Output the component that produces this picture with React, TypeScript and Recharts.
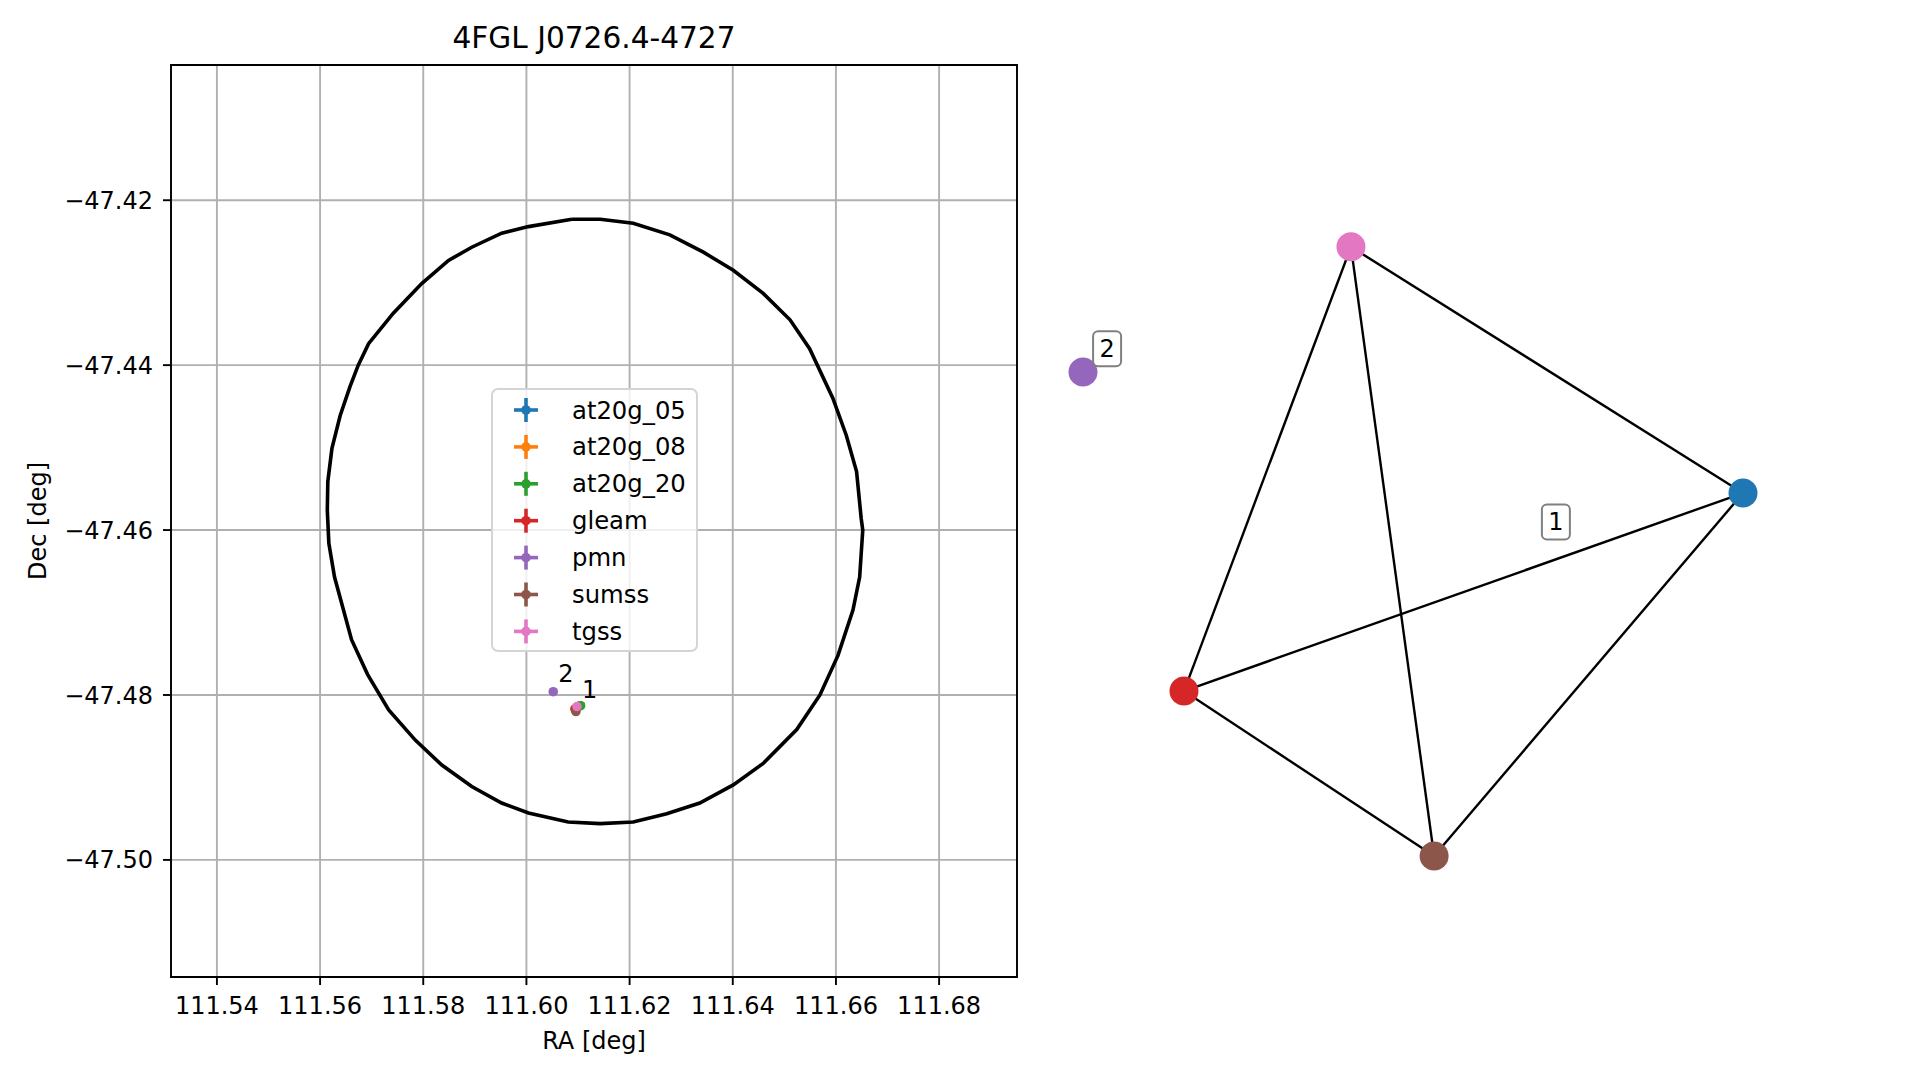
import {
  CartesianGrid,
  Legend,
  ReferenceArea,
  ReferenceLine,
  Scatter,
  ScatterChart,
  XAxis,
  YAxis,
} from "recharts";

// left panel: sky positions
const raTicks = [111.54, 111.56, 111.58, 111.6, 111.62, 111.64, 111.66, 111.68];
const decTicks = [-47.5, -47.48, -47.46, -47.44, -47.42];
const raDomain = [111.5311, 111.6951];
const decDomain = [-47.5142, -47.4036];

const catalogs = ["at20g_05", "at20g_08", "at20g_20", "gleam", "pmn", "sumss", "tgss"];
const catalogColors = ["#1f77b4", "#ff7f0e", "#2ca02c", "#d62728", "#9467bd", "#8c564b", "#e377c2"];
const catalogRa = [111.6104, 111.6104, 111.6105, 111.6094, 111.6052, 111.6096, 111.6098];
const catalogDec = [-47.4813, -47.4813, -47.4813, -47.4817, -47.4796, -47.482, -47.4814];

const groupLabels = ["1", "2"];
const groupRa = [111.6098, 111.6052];
const groupDec = [-47.4816, -47.4796];

// 4FGL error ellipse
const ellipseRa = [
  111.6088, 111.6143, 111.6207, 111.6278, 111.6343, 111.6401, 111.6459, 111.6511, 111.6549, 111.6594,
  111.662, 111.664, 111.6649, 111.6652, 111.6646, 111.6633, 111.6604, 111.6569, 111.6524, 111.6459,
  111.6401, 111.6336, 111.6272, 111.6207, 111.6143, 111.6081, 111.6004, 111.5952, 111.5894, 111.5836,
  111.5785, 111.5733, 111.5692, 111.5661, 111.5628, 111.5617, 111.5614, 111.5615, 111.5623, 111.5639,
  111.5658, 111.5674, 111.5694, 111.5742, 111.5797, 111.5849, 111.5894, 111.5952, 111.6004, 111.6088,
];
const ellipseDec = [
  -47.4223, -47.4223, -47.4228, -47.4242, -47.4263, -47.4285, -47.4313, -47.4345, -47.438, -47.444,
  -47.4485, -47.4529, -47.4586, -47.46, -47.4657, -47.4697, -47.4752, -47.48, -47.4842, -47.4883,
  -47.4909, -47.4931, -47.4944, -47.4954, -47.4956, -47.4954, -47.4943, -47.4931, -47.4911, -47.4885,
  -47.4855, -47.4818, -47.4775, -47.4733, -47.4657, -47.4616, -47.4576, -47.4541, -47.4501, -47.4461,
  -47.4426, -47.44, -47.4374, -47.4337, -47.4301, -47.4273, -47.4257, -47.424, -47.4232, -47.4223,
];

// right panel: match graph layout
const nodeNames = ["pmn", "tgss", "at20g_05", "gleam", "sumss"];
const nodeColors = ["#9467bd", "#e377c2", "#1f77b4", "#d62728", "#8c564b"];
const nodeX = [-1.0, -0.188, 1.0, -0.694, 0.064];
const nodeY = [0.582, 0.961, 0.215, -0.385, -0.885];
const edgeFrom = ["tgss", "tgss", "tgss", "at20g_05", "at20g_05", "gleam"];
const edgeTo = ["at20g_05", "gleam", "sumss", "gleam", "sumss", "sumss"];
const componentLabels = ["1", "2"];
const componentX = [0.433, -0.927];
const componentY = [0.127, 0.652];

const ellipse = ellipseRa.map((ra, i) => ({ ra, dec: ellipseDec[i] }));
const groups = groupLabels.map((label, i) => ({ label, ra: groupRa[i], dec: groupDec[i] }));
const nodes = nodeNames.map((name, i) => ({ name, color: nodeColors[i], x: nodeX[i], y: nodeY[i] }));
const components = componentLabels.map((label, i) => ({ label, x: componentX[i], y: componentY[i] }));
const nodeAt = (name: string) => nodes.find((n) => n.name === name)!;

const FONT = "'DejaVu Sans', sans-serif";
const fmtDec = (v: number) => (v < 0 ? "\u2212" : "") + Math.abs(v).toFixed(2);

const Dot = (p: any) => <circle cx={p.cx} cy={p.cy} r={4.8} fill={p.fill} />;
const Nothing = () => <g />;
const GroupText = (p: any) => (
  <text x={p.cx + 5} y={p.cy - 10} fontSize={24} fontFamily={FONT} fill="#000">
    {p.payload.label}
  </text>
);
const NodeDot = (p: any) => <circle cx={p.cx} cy={p.cy} r={14.5} fill={p.payload.color} />;
const BoxLabel = (p: any) => (
  <g>
    <rect x={p.cx - 14} y={p.cy - 17.5} width={28} height={35} rx={5} fill="#fff" stroke="#808080" strokeWidth={2} />
    <text x={p.cx} y={p.cy} textAnchor="middle" dominantBaseline="central" fontSize={24} fontFamily={FONT} fill="#000">
      {p.payload.label}
    </text>
  </g>
);

const renderLegend = () => (
  <svg width={207} height={264}>
    <rect x={1} y={1} width={205} height={262} rx={6} fill="rgba(255,255,255,0.8)" stroke="#d4d4d4" strokeWidth={1.9} />
    {catalogs.map((name, i) => {
      const cy = 22 + i * 36.9;
      const c = catalogColors[i];
      return (
        <g key={name}>
          <line x1={23} x2={47} y1={cy} y2={cy} stroke={c} strokeWidth={3.6} />
          <line x1={35} x2={35} y1={cy - 12} y2={cy + 12} stroke={c} strokeWidth={3.6} />
          <circle cx={35} cy={cy} r={4.8} fill={c} />
          <text x={81} y={cy} dominantBaseline="central" fontSize={24.3} fontFamily={FONT} fill="#000">
            {name}
          </text>
        </g>
      );
    })}
  </svg>
);

export default function App() {
  return (
    <div style={{ position: "fixed", left: 0, top: 0, width: 1919, height: 1080, background: "#fff", fontFamily: FONT }}>
      <div style={{ position: "absolute", left: 0, top: 0 }}>
        <ScatterChart width={1040} height={1080} margin={{ top: 65, right: 23, bottom: 63, left: 71 }}>
          <CartesianGrid stroke="#b0b0b0" strokeWidth={1.9} />
          <XAxis
            type="number"
            dataKey="ra"
            domain={raDomain}
            ticks={raTicks}
            interval={0}
            allowDataOverflow
            height={40}
            axisLine={false}
            tickLine={{ stroke: "#000", strokeWidth: 1.9 }}
            tickSize={8}
            tickMargin={12}
            tick={{ fill: "#000", fontSize: 24, fontFamily: FONT }}
            tickFormatter={(v: number) => v.toFixed(2)}
          />
          <YAxis
            type="number"
            dataKey="dec"
            domain={decDomain}
            ticks={decTicks}
            interval={0}
            allowDataOverflow
            width={100}
            axisLine={false}
            tickLine={{ stroke: "#000", strokeWidth: 1.9 }}
            tickSize={8}
            tickMargin={10}
            tick={{ fill: "#000", fontSize: 24, fontFamily: FONT }}
            tickFormatter={fmtDec}
          />
          <Scatter
            data={ellipse}
            line={{ stroke: "#000", strokeWidth: 3.6 }}
            lineJointType="linear"
            shape={Nothing}
            fill="#000"
            isAnimationActive={false}
          />
          {catalogs.map((name, i) => (
            <Scatter
              key={name}
              name={name}
              data={[{ ra: catalogRa[i], dec: catalogDec[i] }]}
              fill={catalogColors[i]}
              shape={Dot}
              isAnimationActive={false}
            />
          ))}
          <Scatter data={groups} shape={GroupText} isAnimationActive={false} />
          <ReferenceArea
            x1={raDomain[0]}
            x2={raDomain[1]}
            y1={decDomain[0]}
            y2={decDomain[1]}
            fill="none"
            fillOpacity={0}
            stroke="#000"
            strokeWidth={1.9}
            ifOverflow="visible"
          />
          <Legend
            content={renderLegend}
            layout="horizontal"
            verticalAlign="middle"
            align="center"
            wrapperStyle={{ left: 491, top: 388, width: 207, height: 264 }}
          />
        </ScatterChart>
      </div>
      <div style={{ position: "absolute", left: 0, top: 21, width: 1188, textAlign: "center", fontSize: 29.6, lineHeight: "35px" }}>
        4FGL J0726.4-4727
      </div>
      <div style={{ position: "absolute", left: 0, top: 1026, width: 1188, textAlign: "center", fontSize: 24, lineHeight: "30px" }}>
        RA [deg]
      </div>
      <div
        style={{
          position: "absolute",
          left: 38,
          top: 521,
          fontSize: 24,
          lineHeight: "30px",
          whiteSpace: "nowrap",
          transform: "translate(-50%, -50%) rotate(-90deg)",
        }}
      >
        Dec [deg]
      </div>
      <div style={{ position: "absolute", left: 1017, top: 135 }}>
        <ScatterChart width={792} height={858} margin={{ top: 0, right: 0, bottom: 0, left: 0 }}>
          <XAxis type="number" dataKey="x" domain={[-1.2, 1.2]} hide />
          <YAxis type="number" dataKey="y" domain={[-1.3, 1.3]} hide />
          {edgeFrom.map((a, i) => {
            const s = nodeAt(a);
            const t = nodeAt(edgeTo[i]);
            return (
              <ReferenceLine
                key={a + edgeTo[i]}
                segment={[{ x: s.x, y: s.y }, { x: t.x, y: t.y }]}
                stroke="#000"
                strokeWidth={2.4}
                ifOverflow="visible"
              />
            );
          })}
          <Scatter data={nodes} shape={NodeDot} isAnimationActive={false} />
          <Scatter data={components} shape={BoxLabel} isAnimationActive={false} />
        </ScatterChart>
      </div>
    </div>
  );
}
